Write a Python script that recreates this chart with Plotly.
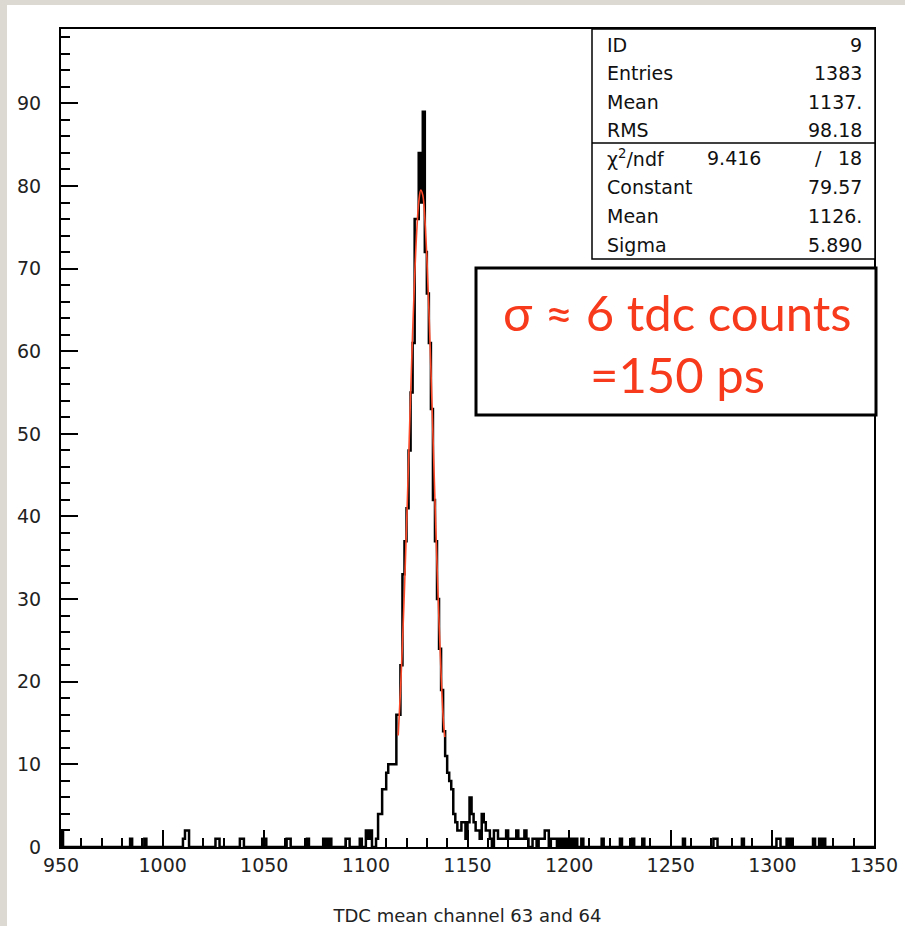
import numpy as np
import plotly.graph_objects as go

# ---------------- data ----------------
x_min, x_max = 950, 1350
y_max = 99

# histogram bins (left edge, 1 TDC count wide) that are non-empty, and their contents
filled_bins = [
    950, 984, 991, 1010, 1011, 1012, 1026, 1027, 1038, 1039, 1049, 1050, 1061, 1062,
    1071, 1079, 1080, 1082, 1090, 1091, 1097, 1100, 1101, 1102, 1105, 1106, 1107, 1108,
    1109, 1110, 1111, 1112, 1113, 1114, 1115, 1116, 1117, 1118, 1119, 1120, 1121, 1122,
    1123, 1124, 1125, 1126, 1127, 1128, 1129, 1130, 1131, 1132, 1133, 1134, 1135, 1136,
    1137, 1138, 1139, 1140, 1141, 1142, 1143, 1144, 1145, 1146, 1147, 1148, 1149, 1150,
    1151, 1152, 1153, 1154, 1155, 1156, 1157, 1158, 1159, 1160, 1161, 1163, 1164, 1165,
    1166, 1167, 1168, 1169, 1170, 1171, 1172, 1173, 1174, 1175, 1176, 1177, 1178, 1179,
    1182, 1183, 1185, 1186, 1187, 1188, 1189, 1191, 1192, 1193, 1195, 1197, 1199, 1201,
    1203, 1206, 1216, 1225, 1231, 1236, 1256, 1271, 1272, 1285, 1302, 1303, 1307, 1309,
    1320, 1323, 1325,
]
filled_counts = [
    2, 1, 1, 1, 2, 2, 1, 1, 1, 1, 1, 1, 1, 1,
    1, 1, 1, 1, 1, 1, 1, 2, 1, 2, 1, 4, 4, 7,
    7, 9, 10, 10, 10, 10, 16, 16, 22, 33, 37, 41, 48, 55,
    61, 76, 76, 84, 78, 89, 72, 67, 61, 53, 42, 37, 30, 24,
    19, 14, 11, 9, 8, 7, 4, 3, 2, 2, 3, 3, 1, 3,
    6, 4, 3, 2, 2, 1, 4, 3, 2, 2, 1, 2, 2, 1,
    1, 1, 1, 2, 1, 1, 1, 1, 2, 1, 1, 1, 2, 1,
    1, 1, 1, 1, 1, 2, 2, 1, 1, 1, 1, 1, 1, 1,
    1, 1, 1, 1, 1, 1, 1, 1, 1, 1, 1, 1, 1, 1,
    1, 1, 1,
]

# red fit curve
fit_x = [1115.9, 1117, 1118, 1119, 1120, 1121, 1122, 1123, 1124, 1125, 1126, 1127,
         1128, 1129, 1130, 1131, 1132, 1133, 1134, 1135, 1136, 1137, 1138, 1138.8]
fit_y = [13.5, 18.8, 24.6, 31.3, 38.7, 46.7, 54.7, 62.3, 69.0, 74.4, 78.0, 79.5,
         78.9, 76.1, 71.4, 65.1, 57.8, 49.9, 41.9, 34.2, 27.2, 21.0, 15.8, 13.3]

stat_labels = ["ID", "Entries", "Mean", "RMS"]
stat_values = ["9", "1383", "1137.", "98.18"]
fit_labels = ["Constant", "Mean", "Sigma"]
fit_values = ["79.57", "1126.", "5.890"]
chi2_value, ndf_value = "9.416", "18"

x_title = "TDC mean channel 63 and 64"
note_lines = ["σ ≈ 6 tdc counts", "=150 ps"]

# ---------------- build histogram outline ----------------
edges = np.arange(x_min, x_max + 1)
counts = np.zeros(len(edges) - 1)
for b, c in zip(filled_bins, filled_counts):
    counts[b - x_min] = c
hx = [x_min] + list(edges)
hy = [0] + list(counts) + [0]

# ---------------- figure ----------------
W, H = 905, 926
PL, PR, PT, PB = 61, 874, 29, 847


def xp(px):
    return (px - PL) / (PR - PL)


def yp(py):
    return (PB - py) / (PB - PT)


fig = go.Figure()
fig.add_trace(go.Scatter(x=hx, y=hy, mode="lines", line=dict(color="black", width=2.5, shape="hv"),
                         hoverinfo="skip", showlegend=False))
fig.add_trace(go.Scatter(x=fit_x, y=fit_y, mode="lines",
                         line=dict(color="#ff4a2a", width=1.6, shape="spline"),
                         hoverinfo="skip", showlegend=False))

tickfont = dict(family="DejaVu Sans", size=19, color="#222222")
fig.update_xaxes(range=[x_min, x_max], showgrid=False, zeroline=False, automargin=False,
                 showline=True, linecolor="black", linewidth=2, mirror=True,
                 ticks="inside", tickcolor="black", ticklen=17, tickwidth=2,
                 tick0=950, dtick=50, tickfont=tickfont, ticklabelstandoff=0,
                 minor=dict(ticks="inside", ticklen=9, tickwidth=2, tickcolor="black", dtick=10, tick0=950),
                 title=dict(text=x_title, font=dict(family="DejaVu Sans", size=18, color="#222222"),
                            standoff=44))
fig.update_yaxes(range=[0, y_max], showgrid=False, zeroline=False, automargin=False,
                 showline=True, linecolor="black", linewidth=2, mirror=True,
                 ticks="inside", tickcolor="black", ticklen=17, tickwidth=2,
                 tick0=0, dtick=10, tickfont=tickfont, ticklabelstandoff=14,
                 minor=dict(ticks="inside", ticklen=9, tickwidth=2, tickcolor="black", dtick=2, tick0=0))

gray = "#dcd9d3"
shapes = [
    dict(type="rect", xref="paper", yref="paper", x0=xp(-5), x1=xp(7), y0=yp(H + 5), y1=yp(-5),
         fillcolor=gray, line=dict(width=0), layer="below"),
    dict(type="rect", xref="paper", yref="paper", x0=xp(-5), x1=xp(W + 5), y0=yp(5), y1=yp(-5),
         fillcolor=gray, line=dict(width=0), layer="below"),
    # stats box
    dict(type="rect", xref="paper", yref="paper", x0=xp(592), x1=xp(875), y0=yp(259), y1=yp(29),
         fillcolor="white", line=dict(color="black", width=1.5)),
    dict(type="line", xref="paper", yref="paper", x0=xp(592), x1=xp(875), y0=yp(143), y1=yp(143),
         line=dict(color="black", width=1.5)),
    # note box
    dict(type="rect", xref="paper", yref="paper", x0=xp(476), x1=xp(876), y0=yp(415), y1=yp(268),
         fillcolor="white", line=dict(color="black", width=3)),
]

ann = []
sfont = dict(family="DejaVu Sans", size=19, color="#111111")
rows_y = [45, 73, 102, 130]
for lab, val, yy in zip(stat_labels, stat_values, rows_y):
    ann.append(dict(x=xp(605), y=yp(yy), text=lab, xanchor="left", yanchor="middle", font=sfont))
    ann.append(dict(x=xp(864), y=yp(yy), text=val, xanchor="right", yanchor="middle", font=sfont))
ann.append(dict(x=xp(605), y=yp(158), text="χ<sup>2</sup>/ndf", xanchor="left", yanchor="middle", font=sfont))
ann.append(dict(x=xp(734), y=yp(158), text=chi2_value, xanchor="center", yanchor="middle", font=sfont))
ann.append(dict(x=xp(818), y=yp(158), text="/", xanchor="center", yanchor="middle", font=sfont))
ann.append(dict(x=xp(864), y=yp(158), text=ndf_value, xanchor="right", yanchor="middle", font=sfont))
for lab, val, yy in zip(fit_labels, fit_values, [187, 216, 245]):
    ann.append(dict(x=xp(605), y=yp(yy), text=lab, xanchor="left", yanchor="middle", font=sfont))
    ann.append(dict(x=xp(864), y=yp(yy), text=val, xanchor="right", yanchor="middle", font=sfont))

nfont = dict(family="Lato", size=49, color="#f83a1c")
ann.append(dict(x=xp(677), y=yp(312), text=note_lines[0], xanchor="center", yanchor="middle", font=nfont))
ann.append(dict(x=xp(677), y=yp(374), text=note_lines[1], xanchor="center", yanchor="middle", font=nfont))
for a in ann:
    a.update(xref="paper", yref="paper", showarrow=False)

fig.update_layout(width=W, height=H, margin=dict(l=PL, r=W - PR, t=PT, b=H - PB, pad=0),
                  paper_bgcolor="white", plot_bgcolor="white",
                  shapes=shapes, annotations=ann, showlegend=False)

fig.write_html("out.html")
